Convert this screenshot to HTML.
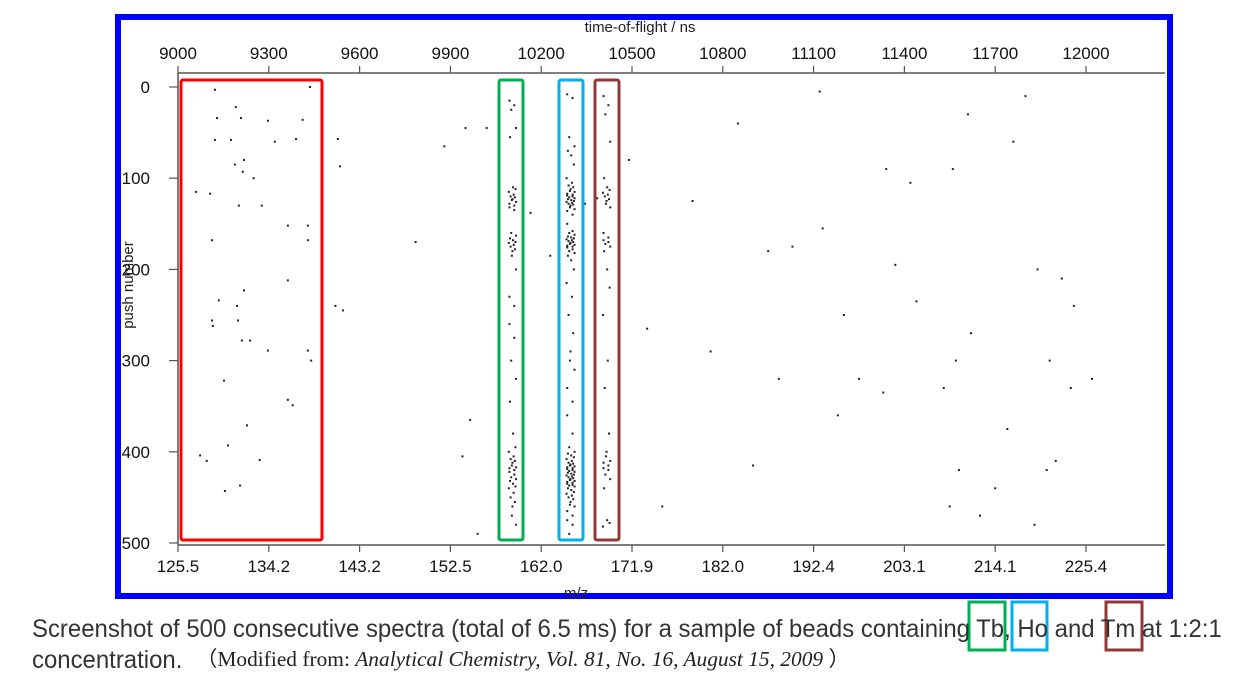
<!DOCTYPE html>
<html><head><meta charset="utf-8"><style>
body{margin:0;background:#fff;width:1260px;height:698px;overflow:hidden;font-family:"Liberation Sans",sans-serif}
svg{position:absolute;left:0;top:0}
.cap{position:absolute;font-size:25px;color:#333;white-space:nowrap;transform-origin:0 0;line-height:1}
</style></head><body>
<svg width="1260" height="698">
<rect x="118" y="17" width="1052" height="579" fill="none" stroke="#0000ff" stroke-width="6"/>
<g id="axes"></g>
<g id="dots"></g>
<rect x="181" y="80" width="141" height="460" fill="none" stroke="#ff0000" stroke-width="3" rx="2"/>
<rect x="499" y="80" width="24" height="460" fill="none" stroke="#00b050" stroke-width="3" rx="2"/>
<rect x="559" y="80" width="24" height="460" fill="none" stroke="#00b0f0" stroke-width="3" rx="2"/>
<rect x="595" y="80" width="24" height="460" fill="none" stroke="#953735" stroke-width="3" rx="2"/>
<text x="640" y="32" text-anchor="middle" font-size="15" fill="#222">time-of-flight / ns</text>
<text x="576" y="598" text-anchor="middle" font-size="15" fill="#222">m/z</text>
<text transform="translate(133,285) rotate(-90)" text-anchor="middle" font-size="15" fill="#222">push number</text>
<rect x="969" y="602" width="36" height="48" fill="none" stroke="#00b050" stroke-width="3"/>
<rect x="1012" y="602" width="35" height="48" fill="none" stroke="#00b0f0" stroke-width="3"/>
<rect x="1106" y="602" width="36" height="48" fill="none" stroke="#953735" stroke-width="3"/>
</svg>
<div class="cap" id="c1" style="left:32px;top:617px">Screenshot of 500 consecutive spectra (total of 6.5 ms) for a sample of beads containing Tb, Ho and Tm at 1:2:1</div>
<div class="cap" id="c2" style="left:32px;top:648px">concentration.</div>
<div class="cap" id="c3" style="left:196px;top:649px;font-family:'Liberation Serif',serif;font-size:21px;color:#222">（Modified from: <i>Analytical Chemistry, Vol. 81, No. 16, August 15, 2009</i> ）</div>
<script>
const topTicks=[9000,9300,9600,9900,10200,10500,10800,11100,11400,11700,12000];
const bottomTicks=["125.5","134.2","143.2","152.5","162.0","171.9","182.0","192.4","203.1","214.1","225.4"];
const yTicks=[0,100,200,300,400,500];
const scatterTof=[9122,9191,9208,9297,9412,9436,9129,9175,9106,9188,9218,9214,9122,9201,9112,9277,9363,9429,9429,9135,9195,9198,9115,9211,9238,9297,9152,9363,9379,9228,9073,9155,9205,9270,9165,9112,9363,9218,9429,9060,9095,9440,9390,9250,9320,9528,9535,9520,9545,9785,9880,10020,9950,9965,9940,10060,9990,10138,10165,10230,10260,10345,10385,10490,10600,10550,10700,10760,10850,10900,10950,10985,11030,11120,11130,11180,11200,11250,11330,11340,11370,11420,11440,11530,11550,11560,11580,11610,11620,11570,11650,11700,11740,11760,11800,11830,11880,11920,11950,11870,11960,12020,11840,11900];
const scatterPush=[3,22,34,37,36,0,34,58,117,85,80,93,58,130,168,130,152,152,168,234,240,256,262,278,278,289,322,343,349,371,404,443,437,409,393,256,212,223,289,115,410,300,57,100,60,57,87,240,245,170,65,45,45,365,405,395,490,422,138,185,172,128,122,80,460,265,125,290,40,415,180,320,175,5,155,360,250,320,335,90,195,105,235,330,460,90,420,30,270,300,470,440,375,60,10,480,300,210,330,420,240,320,200,410];
const tbTof=10105,hoTof=10297,tmTof=10416;
const tbPush=[15,20,25,45,55,110,112,115,118,120,121,123,124,126,128,130,132,135,160,163,166,168,170,171,173,175,178,180,185,200,230,240,260,275,300,320,345,380,395,400,405,408,410,412,415,417,418,420,422,425,428,430,432,435,438,440,445,450,455,460,470,480];
const hoPush=[8,12,55,65,70,75,85,100,105,108,110,112,114,115,117,118,119,120,121,122,123,124,125,126,127,128,129,130,132,134,136,140,150,158,160,162,164,165,166,167,168,169,170,171,172,173,174,175,176,178,180,182,185,190,200,215,230,250,270,290,300,310,330,345,360,380,395,400,402,404,406,408,410,412,413,414,415,416,417,418,419,420,421,422,423,424,425,426,427,428,429,430,431,432,433,434,435,436,437,438,440,442,444,446,448,450,452,455,458,460,465,470,475,480,490];
const tmPush=[10,20,30,60,100,110,113,116,118,120,123,125,128,132,160,165,168,170,172,175,180,200,220,250,300,330,380,400,405,410,412,415,418,420,425,430,440,475,478,482];
const jitter=[-5,3,-2,6,-4,1,5,-6,2,-3,4,0,-1,6,-5,3];
const NS='http://www.w3.org/2000/svg';
const L=178,R=1165,T=73,B=545;
const xT=t=>L+(t-9000)/300*90.8;
const yP=p=>87+p*0.912;
const ax=document.getElementById('axes'),dg=document.getElementById('dots');
function mk(tag,a,p){const e=document.createElementNS(NS,tag);for(const k in a)e.setAttribute(k,a[k]);(p||ax).appendChild(e);return e;}
let e=mk('line',{x1:L,y1:T,x2:R,y2:T,stroke:'#555','stroke-width':1.5});


e=mk('line',{x1:L,y1:B,x2:R,y2:B,stroke:'#555','stroke-width':1.5});


e=mk('line',{x1:L,y1:T,x2:L,y2:B,stroke:'#555','stroke-width':1.5});


topTicks.forEach((t,i)=>{const x=xT(t);
 mk('line',{x1:x,y1:T-7,x2:x,y2:T,stroke:'#555','stroke-width':1.2});
 const tx=mk('text',{x:x,y:T-14,'text-anchor':'middle','font-size':17,fill:'#111'});tx.textContent=t;
 
 
 mk('line',{x1:x,y1:B,x2:x,y2:B+7,stroke:'#555','stroke-width':1.2});
 const bx=mk('text',{x:x,y:B+27,'text-anchor':'middle','font-size':17,fill:'#111'});bx.textContent=bottomTicks[i];
 
 
});
yTicks.forEach(p=>{const y=yP(p);
 mk('line',{x1:L-9,y1:y,x2:L,y2:y,stroke:'#555','stroke-width':1.2});
 const tx=mk('text',{x:150,y:y+6,'text-anchor':'end','font-size':17,fill:'#111'});tx.textContent=p;
 
 
});
function dot(t,p){const d=mk('rect',{x:xT(t)-1,y:yP(p)-1,width:2,height:2,fill:'#222'},dg);
 
 }
scatterTof.forEach((t,i)=>dot(t,scatterPush[i]));
tbPush.forEach((p,i)=>dot(tbTof+jitter[i%16]*2,p));
hoPush.forEach((p,i)=>dot(hoTof+jitter[i%16]*2.2,p));
tmPush.forEach((p,i)=>dot(tmTof+jitter[i%16]*2,p));
const c1=document.getElementById('c1');const s=1190/c1.offsetWidth;
c1.style.transform='scaleX('+s+')';
document.getElementById('c2').style.transform='scaleX('+s+')';
const c3=document.getElementById('c3');c3.style.transform='scaleX('+(654/c3.offsetWidth)+')';
</script>
</body></html>
